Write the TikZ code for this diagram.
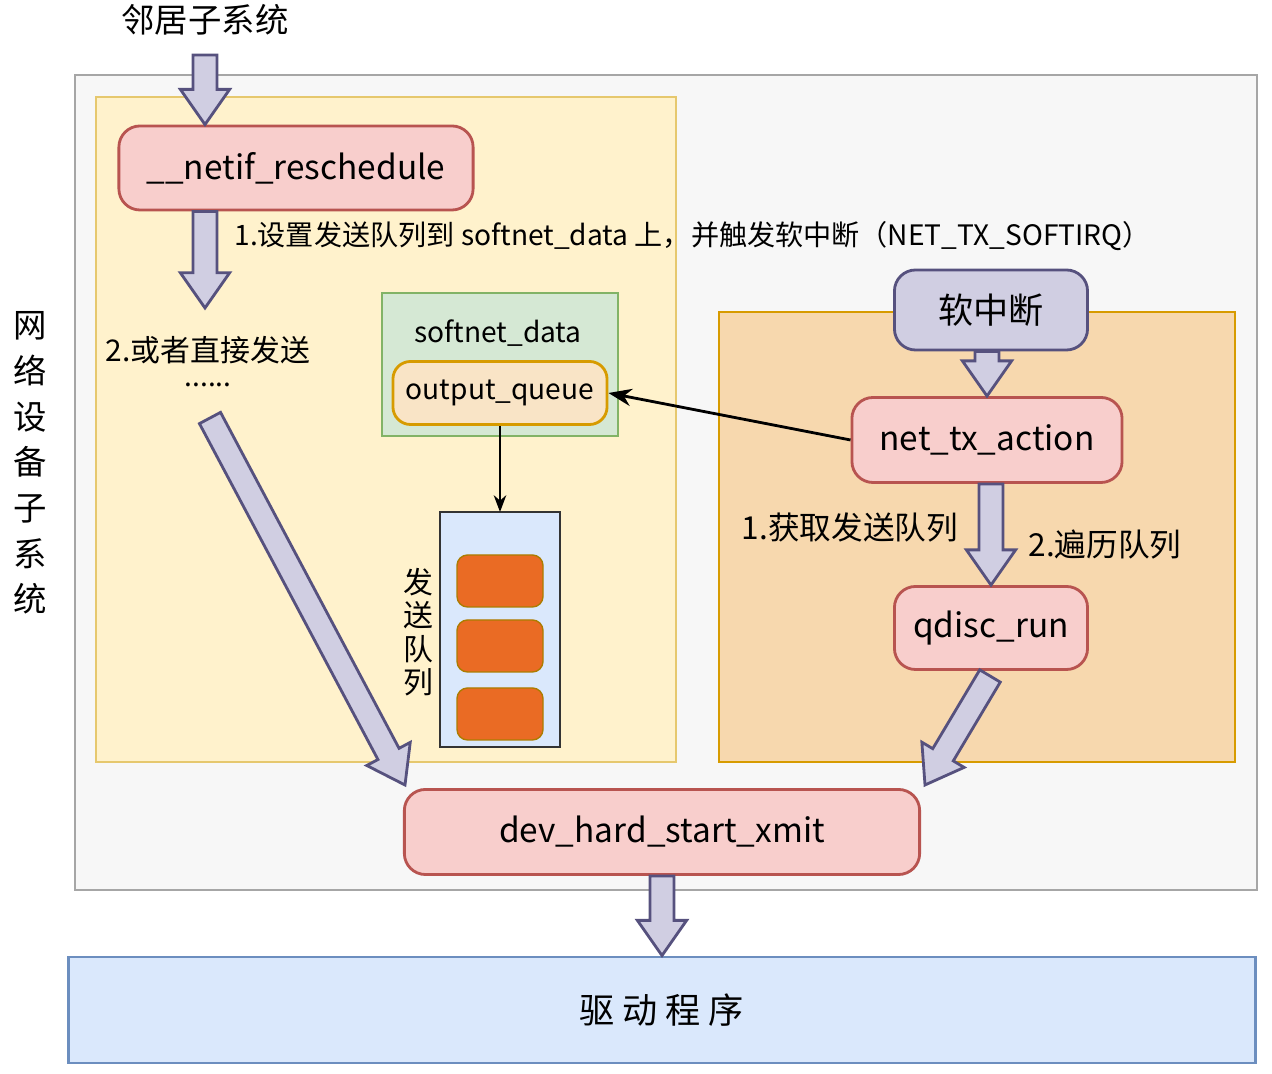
\documentclass[tikz,border=0pt]{standalone}
\usepackage{fontspec}
\setmainfont{Noto Sans CJK SC}
\usetikzlibrary{calc,arrows.meta}
\definecolor{redfill}{HTML}{F8CECC}
\definecolor{redline}{HTML}{B85450}
\definecolor{purfill}{HTML}{D0CEE2}
\definecolor{purline}{HTML}{56517E}
\definecolor{yelfill}{HTML}{FFF2CC}
\definecolor{yelline}{HTML}{E6C86E}
\definecolor{orgfill}{HTML}{F7D8AE}
\definecolor{orgline}{HTML}{D79B00}
\definecolor{grnfill}{HTML}{D5E8D4}
\definecolor{grnline}{HTML}{82B366}
\definecolor{blufill}{HTML}{DAE8FC}
\definecolor{bluline}{HTML}{6C8EBF}
\definecolor{qitem}{HTML}{EA6B24}
\tikzset{
  func/.style={draw=redline, fill=redfill, rounded corners=6pt, thick, font=\fontsize{9.5}{11}\selectfont},
  fat/.style={draw=purline, fill=purfill, thick, line join=miter},
  lbl/.style={font=\fontsize{8}{9}\selectfont},
}
% fat arrow from one point to another
\newcommand\fatarrow[2]{%
  \coordinate (hb) at ($(#2)!10pt!(#1)$);
  \draw[fat] ($(#1)!3.4pt!90:(#2)$) -- ($(hb)!3.4pt!-90:(#2)$) -- ($(hb)!7pt!-90:(#2)$)
    -- (#2) -- ($(hb)!7pt!90:(#2)$) -- ($(hb)!3.4pt!90:(#2)$) -- ($(#1)!3.4pt!-90:(#2)$) -- cycle;}
\renewcommand\fatarrow[2]{%
  \coordinate (hb) at ($(#2)!10pt!(#1)$);
  \draw[fat] ($(#1)!3.4pt!90:(#2)$) -- ($(hb)!3.4pt!-90:(#1)$) -- ($(hb)!7pt!-90:(#1)$)
    -- (#2) -- ($(hb)!7pt!90:(#1)$) -- ($(hb)!3.4pt!90:(#1)$) -- ($(#1)!3.4pt!-90:(#2)$) -- cycle;}
\begin{document}
\begin{tikzpicture}[x=0.01cm,y=-0.01cm]
  \useasboundingbox (0,0) rectangle (1272,1074);
  %% boxes
  \draw[gray!70, thick, fill=gray!6] (75,75) rectangle (1257,890);
  \draw[yelline, fill=yelfill] (96,97) rectangle (676,762);
  \draw[orgline, fill=orgfill] (719,312) rectangle (1235,762);
  \node[font=\fontsize{9.5}{11}\selectfont] (top) at (205,20) {邻居子系统};
  \node[align=center, font=\fontsize{9.5}{13}\selectfont] (side) at (30,463) {网\\络\\设\\备\\子\\系\\统};
  %% left part
  \node[func, minimum width=3.54cm, minimum height=0.84cm] (resch) at (296,168) {\_\_netif\_reschedule};
  \coordinate (a1) at (205,55);
  \fatarrow{a1}{resch.north -| a1}
  \coordinate (a2) at (205,308);
  \fatarrow{resch.south -| a2}{a2}
  \node[lbl, anchor=west] (t1) at (222,236) {1.设置发送队列到 softnet\_data 上，并触发软中断（NET\_TX\_SOFTIRQ）};
  \node[lbl, font=\fontsize{8.5}{10}\selectfont] (t2) at (208,350) {2.或者直接发送};
  \node[lbl] (t3) at (208,385) {......};
  %% softnet_data
  \draw[grnline, fill=grnfill] (382,293) rectangle (618,436);
  \node[lbl] (sd) at (498,333) {softnet\_data};
  \node[draw=orgline, fill=orgfill!70!white, rounded corners=5pt, thick, lbl,
    minimum width=2.14cm, minimum height=0.63cm] (oq) at (500,393) {output\_queue};
  \draw[fill=blufill, draw=black!80] (440,512) rectangle (560,747);
  \coordinate (qtop) at (500,512);
  \draw[-Stealth] (oq.south) -- (qtop);
  \foreach \y in {555,620,688}
    \draw[draw=orgline!80!black, fill=qitem, rounded corners=3pt] (457,\y) rectangle (543,\y+52);
  \node[align=center, font=\fontsize{8.5}{9.5}\selectfont] (qlbl) at (418,632) {发\\送\\队\\列};
  %% right part
  \node[draw=purline, fill=purfill, rounded corners=6pt, thick, minimum width=1.93cm,
    minimum height=0.8cm, font=\fontsize{10}{12}\selectfont] (softirq) at (991,310) {软中断};
  \node[func, minimum width=2.7cm, minimum height=0.85cm] (txa) at (987,440) {net\_tx\_action};
  \fatarrow{softirq.south -| txa}{txa.north}
  \draw[-Stealth, thick] (txa.west) -- (oq.east);
  \node[func, minimum width=1.93cm, minimum height=0.83cm] (qrun) at (991,628) {qdisc\_run};
  \fatarrow{txa.south -| qrun}{qrun.north}
  \node[font=\fontsize{9}{10}\selectfont] (g1) at (850,528) {1.获取发送队列};
  \node[font=\fontsize{9}{10}\selectfont] (g2) at (1105,545) {2.遍历队列};
  %% bottom
  \node[func, minimum width=5.15cm, minimum height=0.85cm] (xmit) at (662,832) {dev\_hard\_start\_xmit};
  \coordinate (d1) at (210,418);
  \coordinate (d2) at (405,785);
  \fatarrow{d1}{d2}
  \coordinate (d3) at (990,676);
  \coordinate (d4) at (925,785);
  \fatarrow{d3}{d4}
  \node[draw=bluline, fill=blufill, thick, minimum width=11.87cm, minimum height=1.06cm,
    font=\fontsize{10}{12}\selectfont] (drv) at (662,1010) {驱 动 程 序};
  \fatarrow{xmit.south}{drv.north}
\end{tikzpicture}
\end{document}
